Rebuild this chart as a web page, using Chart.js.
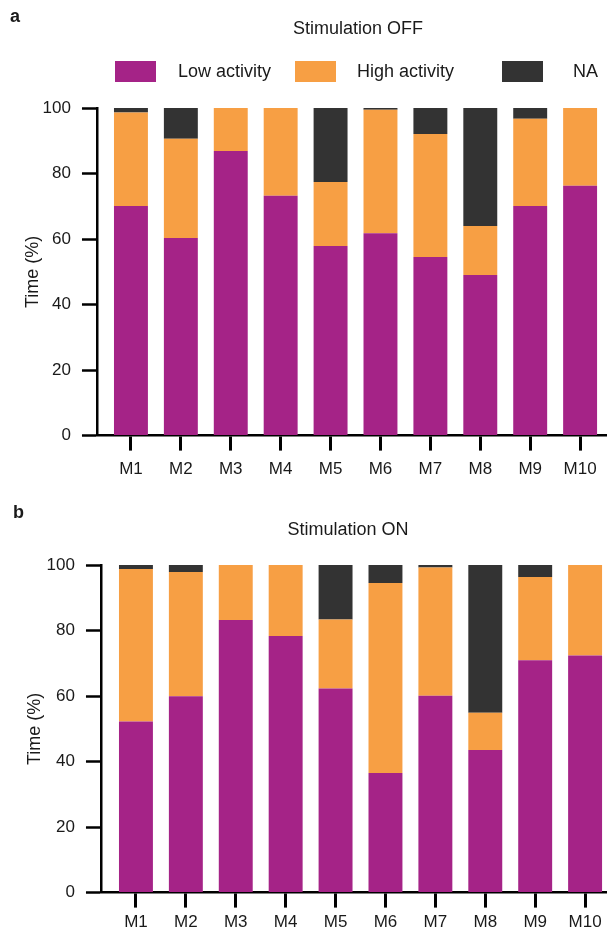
<!DOCTYPE html>
<html>
<head>
<meta charset="utf-8">
<script src="https://cdn.jsdelivr.net/npm/chart.js@4.4.0/dist/chart.umd.min.js"></script>
<style>
html,body{margin:0;padding:0;background:#fff;}
#wrap{position:relative;width:607px;height:935px;overflow:hidden;}
.panel{position:absolute;left:0;width:607px;}
</style>
</head>
<body>
<div id="wrap">
  <div class="panel" style="top:0;height:490px"><canvas id="c1" width="607" height="490"></canvas></div>
  <div class="panel" style="top:490px;height:445px"><canvas id="c2" width="607" height="445"></canvas></div>
</div>
<script>
// ---- data ----
const categories = ['M1','M2','M3','M4','M5','M6','M7','M8','M9','M10'];
const seriesNames = ['Low activity','High activity','NA'];
const yTickValues = [0,20,40,60,80,100];

// Stimulation OFF
const lowOff  = [70.1, 60.3, 86.9, 73.2, 57.9, 61.8, 54.5, 49.0, 70.1, 76.3];
const highOff = [28.5, 30.3, 13.1, 26.8, 19.5, 37.7, 37.6, 15.0, 26.6, 23.7];
const naOff   = [1.4,  9.4,  0,    0,    22.6, 0.5,  7.9,  36.0, 3.3,  0];

// Stimulation ON
const lowOn   = [52.2, 59.9, 83.2, 78.3, 62.3, 36.5, 60.1, 43.5, 70.9, 72.4];
const highOn  = [46.6, 38.0, 16.8, 21.7, 21.1, 58.0, 39.1, 11.4, 25.4, 27.6];
const naOn    = [1.2,  2.1,  0,    0,    16.6, 5.5,  0.8,  45.1, 3.7,  0];

const seriesColors = ['#A52387', '#F79F44', '#333333'];
const FONT = '"Liberation Sans", Arial, Helvetica, sans-serif';
const TEXT = '#1a1a1a';

const decor = {
  id: 'decor',
  afterDraw(chart, args, o) {
    const ctx = chart.ctx;
    ctx.save();
    ctx.fillStyle = TEXT;
    ctx.textBaseline = 'middle';
    ctx.textAlign = 'left';
    ctx.font = 'bold 18px ' + FONT;
    ctx.fillText(o.panel, o.panelX, o.panelY);
    ctx.font = '18px ' + FONT;
    ctx.textAlign = 'center';
    ctx.fillText(o.title, o.titleX, o.titleY);
    if (o.legend) {
      chart.data.datasets.forEach((ds, i) => {
        const it = o.legend[i];
        ctx.fillStyle = ds.backgroundColor;
        ctx.fillRect(it.box, o.legendY - 10.5, 41, 21);
        ctx.fillStyle = TEXT;
        ctx.textAlign = 'left';
        ctx.fillText(ds.label, it.text, o.legendY + 1);
      });
    }
    ctx.restore();
  }
};

function makeChart(id, low, high, na, cfg) {
  const vals = [low, high, na];
  return new Chart(document.getElementById(id), {
    type: 'bar',
    data: {
      labels: categories,
      datasets: seriesNames.map((n, i) => ({
        label: n,
        data: vals[i],
        backgroundColor: seriesColors[i],
        borderWidth: 0,
        categoryPercentage: 1,
        barPercentage: 0.68
      }))
    },
    options: {
      responsive: false,
      animation: false,
      layout: { padding: cfg.padding },
      plugins: {
        legend: { display: false },
        title: { display: false },
        tooltip: { enabled: false },
        decor: cfg.decor
      },
      scales: {
        x: {
          stacked: true,
          offset: true,
          afterBuildTicks: (s) => { s._startValue = cfg.xStart; s._valueRange = cfg.xRange; },
          grid: { display: true, offset: false, drawOnChartArea: false, drawTicks: true,
                  tickLength: 15, tickWidth: 3, tickColor: '#000' },
          border: { display: true, color: '#000', width: 2.5 },
          ticks: { color: TEXT, font: { family: FONT, size: 17 }, padding: cfg.xPad, maxRotation: 0, autoSkip: false }
        },
        y: {
          stacked: true,
          min: 0, max: 100,
          afterBuildTicks: (s) => { s.ticks = yTickValues.map(v => ({ value: v })); },
          grid: { display: true, drawOnChartArea: false, drawTicks: true,
                  tickLength: 15, tickWidth: 2.5, tickColor: '#000' },
          border: { display: true, color: '#000', width: 2.5 },
          ticks: { color: TEXT, font: { family: FONT, size: 17 }, padding: 11 },
          title: { display: true, text: 'Time (%)', color: TEXT,
                   font: { family: FONT, size: 18 }, padding: cfg.yTitlePad }
        }
      }
    },
    plugins: [decor]
  });
}

makeChart('c1', lowOff, highOff, naOff, {
  padding: { top: 108, left: 6, right: 0, bottom: 1 },
  xStart: -0.681, xRange: 10.22, xPad: 9,
  yTitlePad: { top: 16, bottom: -12 },
  decor: {
    panel: 'a', panelX: 10, panelY: 17,
    title: 'Stimulation OFF', titleX: 358, titleY: 29,
    legendY: 71.5,
    legend: [ { box: 115, text: 178 }, { box: 295, text: 357 }, { box: 502, text: 573 } ]
  }
});

makeChart('c2', lowOn, highOn, naOn, {
  padding: { top: 75, left: 10, right: 0, bottom: -3 },
  xStart: -0.701, xRange: 10.14, xPad: 5,
  yTitlePad: { top: 14, bottom: -10 },
  decor: {
    panel: 'b', panelX: 13, panelY: 23,
    title: 'Stimulation ON', titleX: 348, titleY: 40
  }
});
</script>
</body>
</html>
